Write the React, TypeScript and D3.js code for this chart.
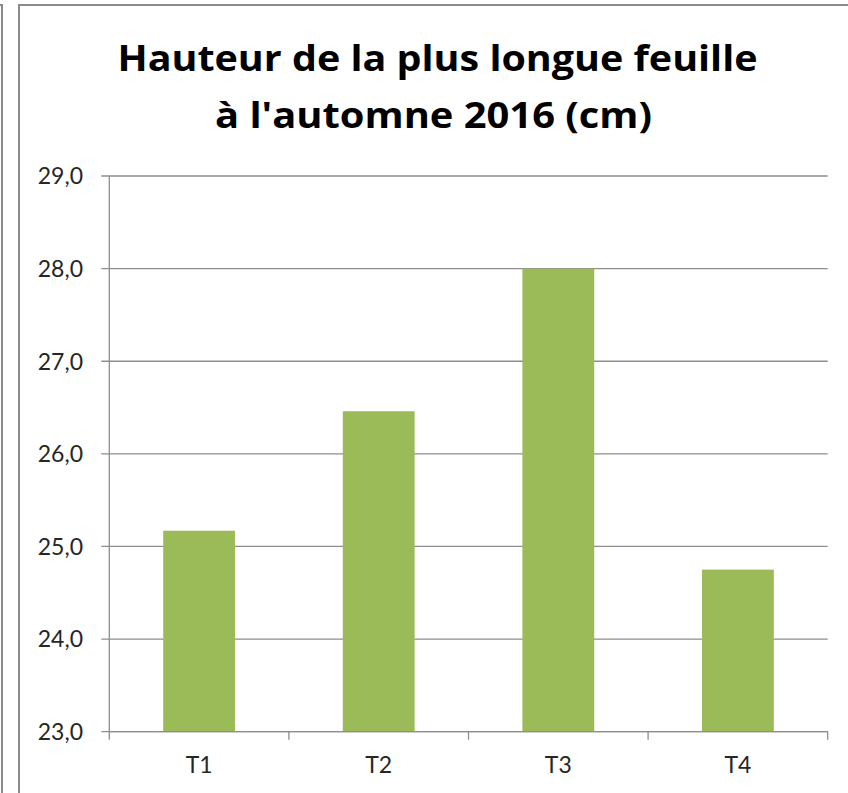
import React from "react";
import * as d3 from "d3";

const categories: string[] = ["T1", "T2", "T3", "T4"];
const values: number[] = [25.17, 26.46, 28.0, 24.75];
const yTicks: number[] = [23, 24, 25, 26, 27, 28, 29];
const titleLines: string[] = ["Hauteur de la plus longue feuille", "à l'automne 2016 (cm)"];

const W = 848;
const H = 793;
const plotLeft = 109.3;
const plotRight = 827.7;
const plotTop = 176;
const plotBottom = 731.7;

export default function App() {
  const x = d3
    .scaleBand<string>()
    .domain(categories)
    .range([plotLeft, plotRight])
    .paddingInner(0.6)
    .paddingOuter(0.3);
  const y = d3.scaleLinear().domain([23, 29]).range([plotBottom, plotTop]);
  const step = x.step();
  const fmt = (v: number) => d3.format(".1f")(v).replace(".", ",");
  const gridColor = "#8e8e8e";
  const titleFont = "'Open Sans', Lato, sans-serif";
  const tickFont = "Lato, 'Open Sans', sans-serif";

  return (
    <svg
      width={W}
      height={H}
      style={{ position: "absolute", left: 0, top: 0, background: "#fff" }}
    >
      <rect x={0} y={0} width={W} height={H} fill="#fff" />
      {/* neighbouring box edge */}
      <path d={`M0,5 H2 V${H}`} fill="none" stroke="#8a8a8a" strokeWidth={2} />
      {/* chart border */}
      <path d={`M${W + 5},5 H19 V${H + 5}`} fill="none" stroke="#8a8a8a" strokeWidth={2} />

      {/* title */}
      <text
        x={437.5}
        y={71}
        textAnchor="middle"
        fontFamily={titleFont}
        fontWeight="bold"
        fontSize={36.5}
        fill="#000"
        textLength={640}
        lengthAdjust="spacingAndGlyphs"
      >
        {titleLines[0]}
      </text>
      <text
        x={433.5}
        y={128}
        textAnchor="middle"
        fontFamily={titleFont}
        fontWeight="bold"
        fontSize={36.5}
        fill="#000"
        textLength={437}
        lengthAdjust="spacingAndGlyphs"
      >
        {titleLines[1]}
      </text>

      {/* gridlines */}
      {yTicks.map((t) => (
        <line
          key={"g" + t}
          x1={plotLeft - 8}
          x2={plotRight}
          y1={y(t)}
          y2={y(t)}
          stroke={gridColor}
          strokeWidth={1.3}
        />
      ))}
      {/* y axis line */}
      <line x1={plotLeft} x2={plotLeft} y1={plotTop} y2={plotBottom} stroke={gridColor} strokeWidth={1.3} />

      {/* y tick labels */}
      {yTicks.map((t) => (
        <text
          key={"yl" + t}
          x={83}
          y={y(t)}
          dy="0.36em"
          textAnchor="end"
          fontFamily={tickFont}
          fontSize={23}
          fill="#262626"
        >
          {fmt(t)}
        </text>
      ))}

      {/* bars */}
      {categories.map((c, i) => (
        <rect
          key={"b" + c}
          x={x(c)}
          y={y(values[i])}
          width={x.bandwidth()}
          height={plotBottom - y(values[i])}
          fill="#9BBB59"
        />
      ))}

      {/* x axis ticks */}
      {d3.range(categories.length + 1).map((i) => (
        <line
          key={"xt" + i}
          x1={plotLeft + i * step}
          x2={plotLeft + i * step}
          y1={plotBottom}
          y2={plotBottom + 8}
          stroke={gridColor}
          strokeWidth={1.3}
        />
      ))}
      <line x1={plotLeft} x2={plotRight} y1={plotBottom} y2={plotBottom} stroke={gridColor} strokeWidth={1.3} />

      {/* x labels */}
      {categories.map((c) => (
        <text
          key={"xl" + c}
          x={(x(c) as number) + x.bandwidth() / 2}
          y={773}
          textAnchor="middle"
          fontFamily={tickFont}
          fontSize={23}
          fill="#262626"
        >
          {c}
        </text>
      ))}
    </svg>
  );
}
